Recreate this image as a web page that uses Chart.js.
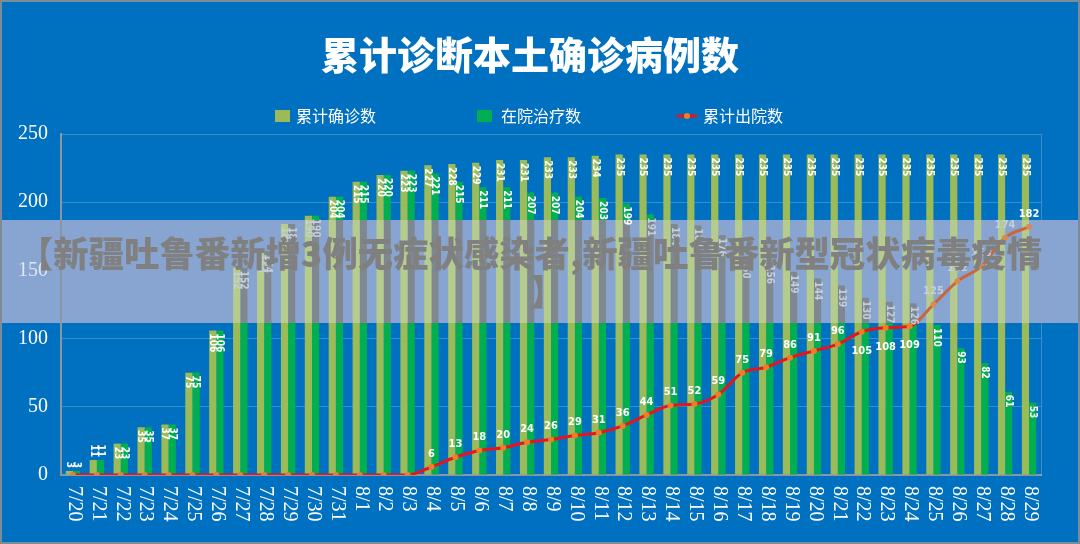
<!DOCTYPE html>
<html><head><meta charset="utf-8">
<script src="https://cdn.jsdelivr.net/npm/chart.js@4/dist/chart.umd.min.js"></script>
<style>html,body{margin:0;padding:0;background:#7d8a98;}#wrap{width:1080px;height:544px;}canvas{display:block;}</style>
</head><body><div id="wrap"><canvas id="c" width="1080" height="544"></canvas></div>
<script>
// ---- data ----
const categories = ['7/20','7/21','7/22','7/23','7/24','7/25','7/26','7/27','7/28','7/29','7/30','7/31',
  '8/1','8/2','8/3','8/4','8/5','8/6','8/7','8/8','8/9','8/10','8/11','8/12','8/13','8/14','8/15',
  '8/16','8/17','8/18','8/19','8/20','8/21','8/22','8/23','8/24','8/25','8/26','8/27','8/28','8/29'];
const confirmedTotal = [3,11,23,35,37,75,106,152,164,184,190,204,
  215,220,223,227,228,229,231,231,233,233,234,235,235,235,235,
  235,235,235,235,235,235,235,235,235,235,235,235,235,235];
const inHospital = [3,11,23,35,37,75,106,152,164,184,190,204,
  215,220,223,221,215,211,211,207,207,204,203,199,191,184,183,
  176,160,156,149,144,139,130,127,126,110,93,82,61,53];
const dischargedTotal = [0,0,0,0,0,0,0,0,0,0,0,0,
  0,0,0,6,13,18,20,24,26,29,31,36,44,51,52,
  59,75,79,86,91,96,105,108,109,125,142,153,174,182];
const yTicks = [0,50,100,150,200,250];
const titleText = '累计诊断本土确诊病例数';
const seriesNames = ['累计确诊数','在院治疗数','累计出院数'];
const bannerLines = ['【新疆吐鲁番新增3例无症状感染者,新疆吐鲁番新型冠状病毒疫情','】'];

// ---- style ----
const BLUE = '#0070c0', BAND = '#87a5d0';
const BAND_TOP = 220, BAND_BOTTOM = 323;
const C_LIGHT = '#9bbb59', C_GREEN = '#00b050', C_RED = '#e8141c', C_DOT = '#f07c28';
const inBand = y => y >= BAND_TOP && y <= BAND_BOTTOM;

function bandGrad(chart, outC, inC) {
  const h = chart.height || 544;
  const g = chart.ctx.createLinearGradient(0, 0, 0, h);
  const t = BAND_TOP / h, b = BAND_BOTTOM / h;
  g.addColorStop(0, outC); g.addColorStop(t, outC);
  g.addColorStop(t, inC); g.addColorStop(b, inC);
  g.addColorStop(b, outC); g.addColorStop(1, outC);
  return g;
}

const decor = {
  id: 'decor',
  beforeDraw(chart) {
    const ctx = chart.ctx;
    ctx.save();
    ctx.fillStyle = '#7d8a98';
    ctx.fillRect(0, 0, chart.width, chart.height);
    ctx.fillStyle = BLUE;
    ctx.fillRect(2, 2, chart.width - 4, chart.height - 4);
    ctx.fillStyle = BAND;
    ctx.fillRect(2, BAND_TOP, chart.width - 4, BAND_BOTTOM - BAND_TOP);
    // title
    ctx.fillStyle = '#ffffff';
    ctx.font = '900 38px "Noto Sans CJK SC"';
    ctx.textAlign = 'center';
    ctx.textBaseline = 'middle';
    ctx.fillText(titleText, 530, 55);
    // legend
    ctx.font = '16px "Noto Sans CJK SC"';
    ctx.textAlign = 'left';
    const ly = 116;
    ctx.fillStyle = C_LIGHT; ctx.fillRect(275, ly - 6, 15, 12);
    ctx.fillStyle = '#fff'; ctx.fillText(seriesNames[0], 296, ly);
    ctx.fillStyle = C_GREEN; ctx.fillRect(477, ly - 6, 15, 12);
    ctx.fillStyle = '#fff'; ctx.fillText(seriesNames[1], 501, ly);
    ctx.strokeStyle = C_RED; ctx.lineWidth = 3;
    ctx.beginPath(); ctx.moveTo(677, ly); ctx.lineTo(697, ly); ctx.stroke();
    ctx.fillStyle = C_DOT; ctx.beginPath(); ctx.arc(687, ly, 3, 0, Math.PI * 2); ctx.fill();
    ctx.fillStyle = '#fff'; ctx.fillText(seriesNames[2], 703, ly);
    ctx.restore();
  },
  beforeDatasetsDraw(chart) {
    const ctx = chart.ctx, a = chart.chartArea;
    ctx.save();
    ctx.strokeStyle = 'rgba(255,255,255,0.22)';
    ctx.lineWidth = 1;
    ctx.beginPath();
    ctx.moveTo(a.right + 0.5, a.top); ctx.lineTo(a.right + 0.5, BAND_TOP);
    ctx.moveTo(a.right + 0.5, BAND_BOTTOM); ctx.lineTo(a.right + 0.5, a.bottom);
    ctx.stroke();
    // x labels, rotated clockwise
    ctx.fillStyle = '#ffffff';
    ctx.font = '20px "Liberation Serif"';
    ctx.textAlign = 'left';
    ctx.textBaseline = 'middle';
    const xs = chart.scales.x;
    categories.forEach((lab, i) => {
      const x = xs.getPixelForValue(i);
      ctx.save();
      ctx.translate(x + 1, a.bottom + 11);
      ctx.rotate(Math.PI / 2);
      ctx.fillText(lab, 0, 0);
      ctx.restore();
    });
    ctx.restore();
  },
  afterDatasetsDraw(chart) {
    const ctx = chart.ctx;
    ctx.save();
    // bar labels
    ctx.font = 'bold 10px "Liberation Sans Narrow", "DejaVu Sans Condensed", Arial';
    ctx.textAlign = 'left';
    ctx.textBaseline = 'middle';
    [0, 1].forEach(di => {
      const meta = chart.getDatasetMeta(di);
      const vals = chart.data.datasets[di].data;
      meta.data.forEach((el, i) => {
        const txt = String(vals[i]);
        const w = ctx.measureText(txt).width;
        let ys = el.y + 3;
        if (el.base - el.y < w + 5) ys = el.y - w - 3;
        const mid = ys + w / 2;
        ctx.fillStyle = inBand(mid) ? '#c5cedb' : '#ffffff';
        ctx.save();
        ctx.translate(el.x, ys);
        ctx.rotate(Math.PI / 2);
        ctx.fillText(txt, 0, 0);
        ctx.restore();
      });
    });
    // line labels
    ctx.font = 'bold 11px "Liberation Sans Narrow", "DejaVu Sans Condensed", Arial';
    ctx.textAlign = 'center';
    const lm = chart.getDatasetMeta(2);
    const lv = chart.data.datasets[2].data;
    lm.data.forEach((pt, i) => {
      if (!lv[i]) return;
      const below = (i >= 33 && i <= 35);
      const y = below ? pt.y + 19 : pt.y - 13;
      ctx.fillStyle = inBand(y) ? '#c5cedb' : '#ffffff';
      ctx.fillText(String(lv[i]), pt.x, y);
    });
    ctx.restore();
  },
  afterDraw(chart) {
    const ctx = chart.ctx;
    ctx.save();
    ctx.fillStyle = '#808080';
    ctx.textAlign = 'center';
    ctx.textBaseline = 'middle';
    ctx.font = '900 36px "Noto Sans CJK SC"';
    const w = ctx.measureText(bannerLines[0]).width;
    const fs = 36 * 1024 / w;
    ctx.font = '900 ' + fs.toFixed(2) + 'px "Noto Sans CJK SC"';
    ctx.fillText(bannerLines[0], 530, 254);
    ctx.fillText(bannerLines[1], 548, 292);
    ctx.restore();
  }
};

new Chart(document.getElementById('c'), {
  data: {
    labels: categories,
    datasets: [
      { type: 'bar', label: seriesNames[0], data: confirmedTotal, order: 1,
        backgroundColor: c => bandGrad(c.chart, C_LIGHT, '#b5cc8d'),
        borderWidth: 0, categoryPercentage: 0.6, barPercentage: 1.0 },
      { type: 'bar', label: seriesNames[1], data: inHospital, order: 1,
        backgroundColor: c => bandGrad(c.chart, C_GREEN, '#7f8891'),
        borderWidth: 0, categoryPercentage: 0.6, barPercentage: 1.0 },
      { type: 'line', label: seriesNames[2], data: dischargedTotal, order: 0,
        borderColor: c => bandGrad(c.chart, C_RED, '#c8673f'),
        borderWidth: 3, cubicInterpolationMode: 'monotone',
        pointRadius: 3, pointBorderWidth: 0,
        pointBackgroundColor: c => bandGrad(c.chart, C_DOT, '#d88a55') }
    ]
  },
  options: {
    responsive: false,
    animation: false,
    devicePixelRatio: 1,
    layout: { padding: { left: 5, right: 39, top: 134, bottom: 61 } },
    plugins: { legend: { display: false }, title: { display: false }, tooltip: { enabled: false } },
    scales: {
      x: {
        type: 'category',
        grid: { display: false },
        border: { display: true, color: '#8a96a4', width: 2 },
        ticks: { display: false }
      },
      y: {
        min: 0, max: 250,
        afterBuildTicks: s => { s.ticks = yTicks.map(v => ({ value: v })); },
        grid: {
          drawTicks: false, lineWidth: 1,
          color: c => {
            const s = c.chart.scales.y;
            if (c.tick && s && inBand(s.getPixelForValue(c.tick.value))) return 'rgba(0,0,0,0)';
            return 'rgba(255,255,255,0.22)';
          }
        },
        border: { display: true, color: '#8a96a4', width: 2 },
        ticks: {
          padding: 13,
          font: { family: '"Liberation Serif"', size: 20 },
          color: c => {
            const s = c.chart.scales.y;
            if (c.tick && s && inBand(s.getPixelForValue(c.tick.value))) return '#dfe6f0';
            return '#ffffff';
          }
        }
      }
    }
  },
  plugins: [decor]
});
</script>
</body></html>
